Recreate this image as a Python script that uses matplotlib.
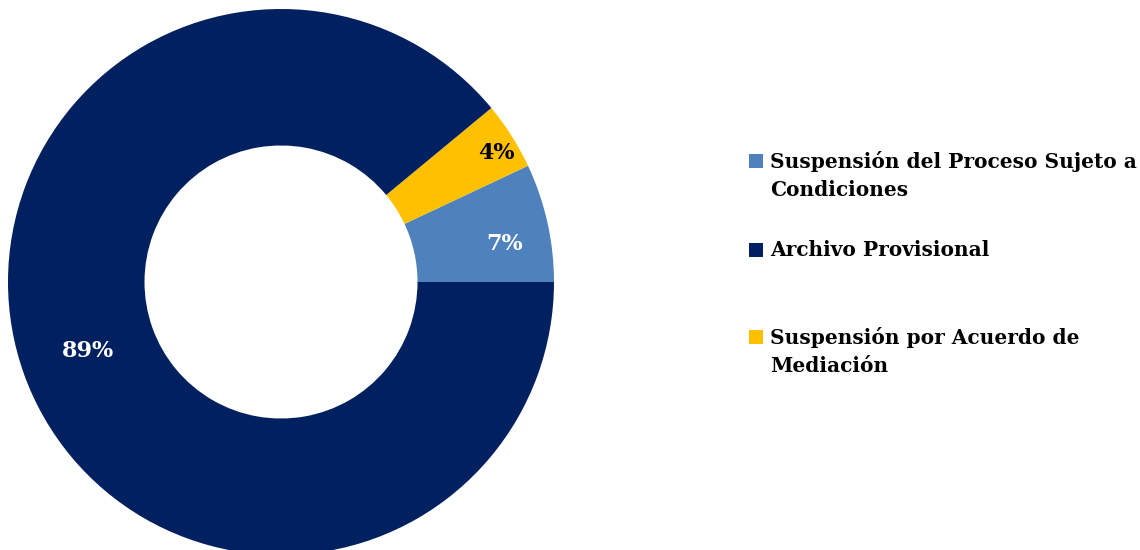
import matplotlib
matplotlib.use("Agg")
import matplotlib.pyplot as plt
from matplotlib.patches import Rectangle
import numpy as np

categories = ["Suspensión del Proceso Sujeto a Condiciones", "Archivo Provisional",
              "Suspensión por Acuerdo de Mediación"]
values = [7, 89, 4]
pie_order = [0, 2, 1]  # drawn counter-clockwise from 3 o'clock
legend_lines = [["Suspensión del Proceso Sujeto a", "Condiciones"],
                ["Archivo Provisional"],
                ["Suspensión por Acuerdo de", "Mediación"]]
colors = ["#4F81BD", "#002060", "#FFC000"]
label_colors = ["white", "white", "black"]
label_radius = [0.83, 0.75, 0.92]
label_angle_shift = [-3.0, 0.0, -1.5]

FONT = "DejaVu Serif"
fig = plt.figure(figsize=(11.4, 5.5), dpi=100)
ax = fig.add_axes([0, 0, 1, 1])

cx, cy, R = 281, 268, 273
vals = [values[i] for i in pie_order]
cols = [colors[i] for i in pie_order]
wedges, _ = ax.pie(vals, colors=cols, startangle=0, counterclock=True,
                   center=(cx, cy), radius=R, frame=True,
                   wedgeprops=dict(width=R * 0.5, edgecolor="none"))
ax.set_xlim(0, 1140)
ax.set_ylim(0, 550)
ax.set_aspect("equal")
ax.axis("off")

for w, i in zip(wedges, pie_order):
    ang = np.deg2rad((w.theta1 + w.theta2) / 2 + label_angle_shift[i])
    r = R * label_radius[i]
    ax.text(cx + r * np.cos(ang), cy + r * np.sin(ang), f"{values[i]}%",
            ha="center", va="center", fontsize=16, fontweight="bold",
            family=FONT, color=label_colors[i])

# legend
ys = [389, 300, 213]  # square centers (axes units, from bottom)
for i in range(3):
    ax.add_patch(Rectangle((749, ys[i] - 7), 14, 14, color=colors[i], lw=0))
    for k, line in enumerate(legend_lines[i]):
        ax.text(770, ys[i] - k * 29, line, ha="left", va="center",
                fontsize=14.5, fontweight="bold", family=FONT, color="black")

fig.savefig("out.png", dpi=100)
